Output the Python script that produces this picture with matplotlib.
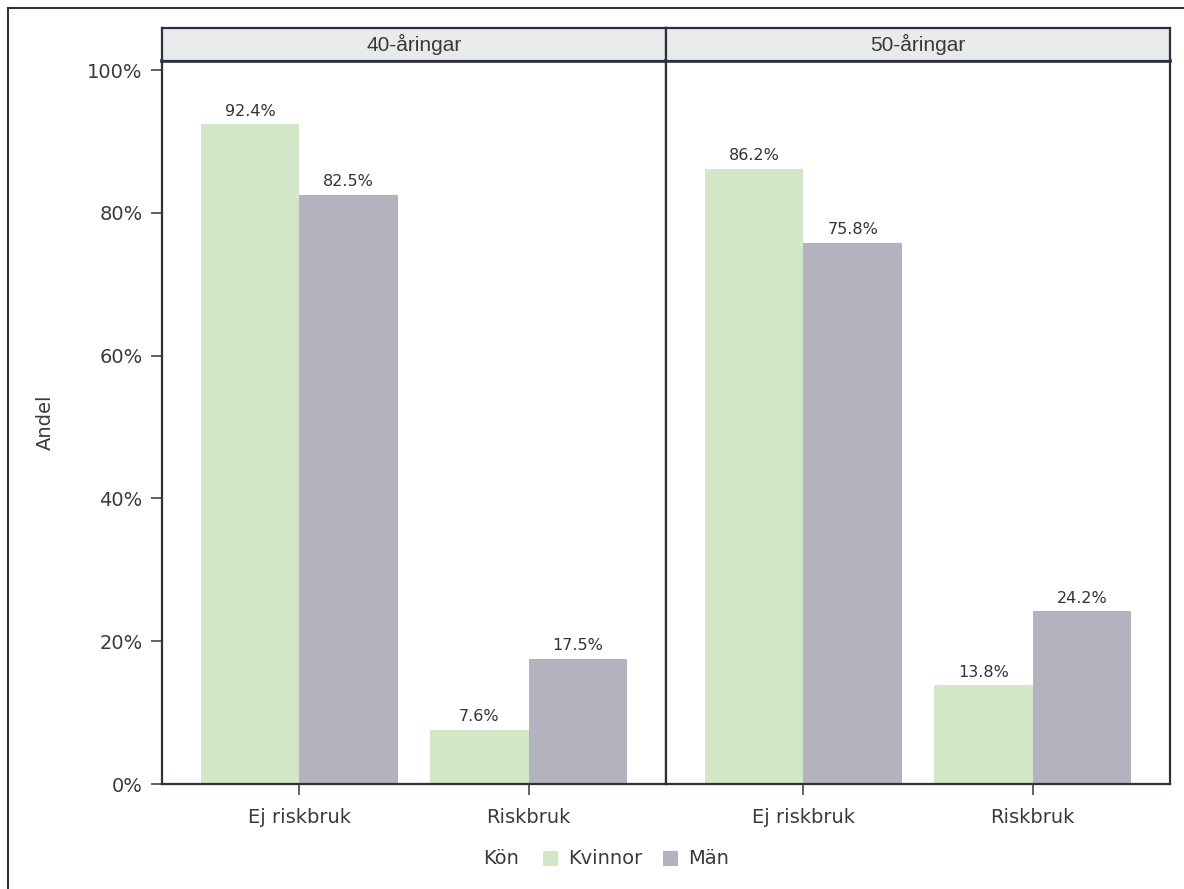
import matplotlib
matplotlib.use("Agg")
import matplotlib.pyplot as plt
from matplotlib.lines import Line2D
from matplotlib.patches import Rectangle
import numpy as np

panels = ["40-åringar", "50-åringar"]
categories = ["Ej riskbruk", "Riskbruk"]
series_names = ["Kvinnor", "Män"]
kvinnor_40 = [92.4, 7.6]
man_40 = [82.5, 17.5]
kvinnor_50 = [86.2, 13.8]
man_50 = [75.8, 24.2]
yticks = [0, 20, 40, 60, 80, 100]
ytick_labels = ["0%", "20%", "40%", "60%", "80%", "100%"]

data = {panels[0]: (kvinnor_40, man_40), panels[1]: (kvinnor_50, man_50)}
colors = ["#D2E6C8", "#B3B3BF"]
frame = "#2B323B"
txt = "#3A3A3A"
FONT = "DejaVu Sans"

W, H = 1184, 889
fig = plt.figure(figsize=(W / 100, H / 100), dpi=100)
fig.patch.set_facecolor("white")

def px(x0, y0, x1, y1):
    return [x0 / W, 1 - y1 / H, (x1 - x0) / W, (y1 - y0) / H]

# outer border (left and top)
fig.add_artist(Line2D([8 / W, 8 / W], [0, 1 - 8 / H], transform=fig.transFigure, color="#333333", lw=1.5))
fig.add_artist(Line2D([8 / W, 1], [1 - 8 / H, 1 - 8 / H], transform=fig.transFigure, color="#333333", lw=1.5))

panel_x = [(162, 666), (666, 1170)]
top, bottom = 61, 784
ymax = 100 + (70 - 61) / ((784 - 70) / 100)
bw = 0.43
xpos = np.arange(1, len(categories) + 1)

for i, p in enumerate(panels):
    x0, x1 = panel_x[i]
    ax = fig.add_axes(px(x0, top, x1, bottom))
    k, m = data[p]
    for j, (vals, c) in enumerate(zip((k, m), colors)):
        offs = -bw / 2 if j == 0 else bw / 2
        bars = ax.bar(xpos + offs, vals, width=bw, color=c, edgecolor="none", zorder=2)
        for b, v in zip(bars, vals):
            ax.annotate(f"{v:.1f}%", (b.get_x() + b.get_width() / 2, v),
                        xytext=(0, 4), textcoords="offset points",
                        ha="center", va="bottom", fontsize=11.5,
                        family=FONT, color="#333333")
    ax.set_xlim(0.4, 2.6)
    ax.set_ylim(0, ymax)
    ax.set_xticks(xpos)
    ax.set_xticklabels(categories, fontsize=14, family=FONT, color=txt)
    ax.tick_params(axis="x", length=8, width=1.3, color="#555555", pad=9)
    if i == 0:
        ax.set_yticks(yticks)
        ax.set_yticklabels(ytick_labels, fontsize=14, family=FONT, color=txt)
        ax.tick_params(axis="y", length=8, width=1.3, color="#555555", pad=6)
        ax.set_ylabel("Andel", fontsize=14, family=FONT, color=txt)
        ax.yaxis.set_label_coords((55 - 162) / 504, 0.5)
    else:
        ax.set_yticks([])
    for s in ax.spines.values():
        s.set_color(frame)
        s.set_linewidth(1.6)
    ax.spines["top"].set_linewidth(2.6)
    ax.set_facecolor("white")

    sax = fig.add_axes(px(x0, 28, x1, top))
    sax.set_facecolor("#E9EAEC")
    sax.set_xticks([])
    sax.set_yticks([])
    for s in sax.spines.values():
        s.set_color(frame)
        s.set_linewidth(1.6)
    sax.text(0.5, 0.5, p, ha="center", va="center", fontsize=15,
             family="Liberation Sans", color=txt, transform=sax.transAxes)

# legend
fig.text(483 / W, 1 - 858 / H, "Kön", fontsize=14, family=FONT,
         color=txt, ha="left", va="center")
leg_items = [(543, colors[0], series_names[0]), (663, colors[1], series_names[1])]
for xs, c, name in leg_items:
    fig.add_artist(Rectangle((xs / W, 1 - 866 / H), 15 / W, 15 / H,
                             transform=fig.transFigure, facecolor=c, edgecolor="none"))
    fig.text((xs + 25) / W, 1 - 858 / H, name, fontsize=14, family=FONT,
             color=txt, ha="left", va="center")

fig.savefig("out.png", dpi=100)
